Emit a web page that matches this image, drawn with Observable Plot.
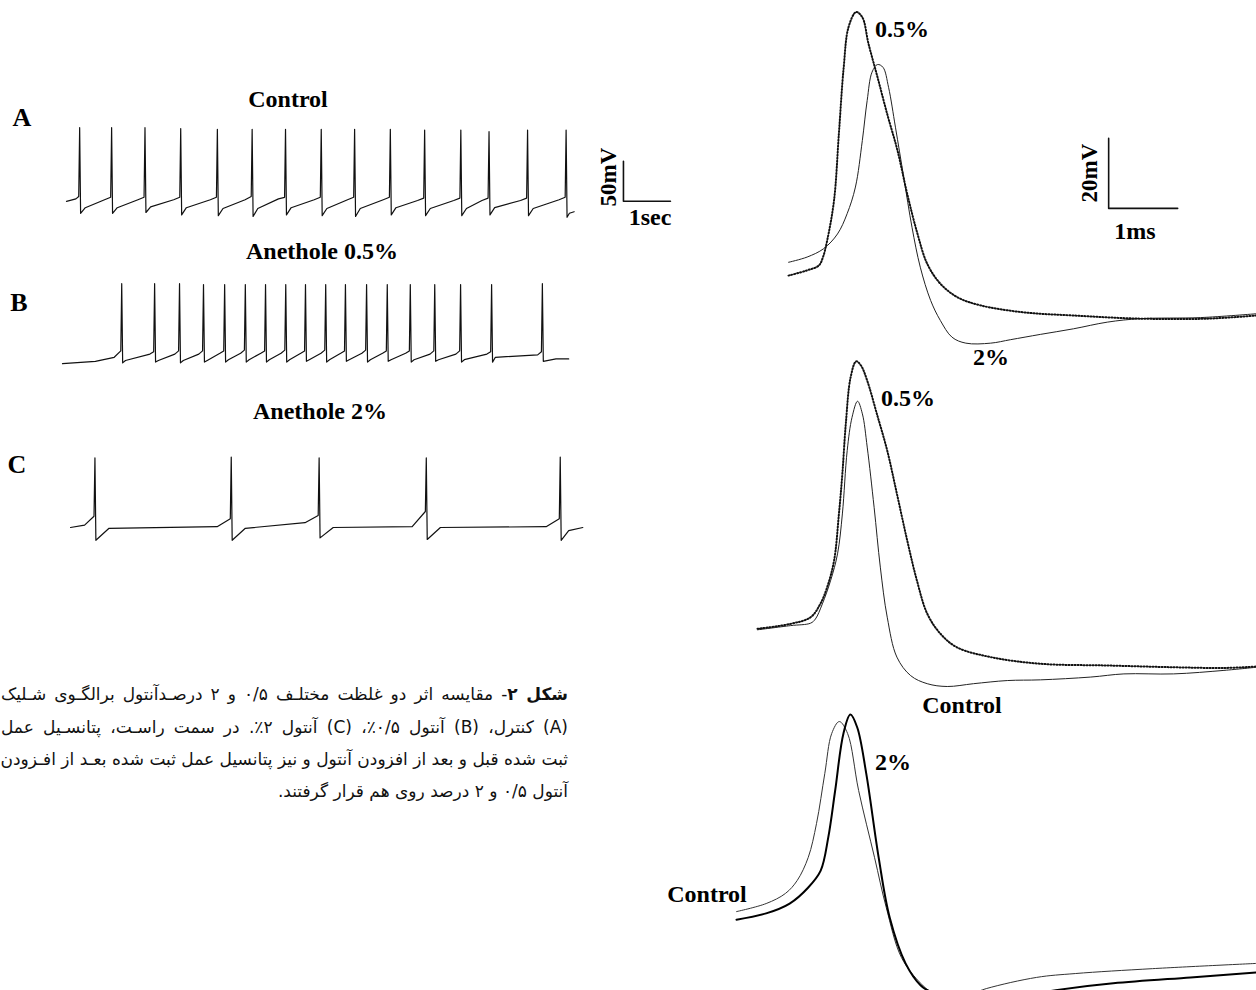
<!DOCTYPE html>
<html><head><meta charset="utf-8">
<script src="https://cdn.jsdelivr.net/npm/d3@7"></script>
<script src="https://cdn.jsdelivr.net/npm/@observablehq/plot@0.6"></script>
<style>
html,body{margin:0;padding:0;background:#fff;}
#fig{position:relative;width:1256px;height:990px;overflow:hidden;background:#fff;}
.pnl{position:absolute;}
.pnl svg{display:block;max-width:none;overflow:hidden;}
.lbl{position:absolute;font-family:"Liberation Serif","Times New Roman",serif;font-weight:bold;font-size:24px;color:#000;white-space:nowrap;transform:translate(-50%,-50%);line-height:1;}
.big{font-size:26px;}
.rot{transform:translate(-50%,-50%) rotate(-90deg);font-size:23px;}
.cap{position:absolute;left:1px;width:567px;direction:rtl;white-space:nowrap;font-family:"DejaVu Sans",sans-serif;font-size:17px;line-height:1;transform:translateY(-50%);color:#111;text-align:right;}
.cap.j{text-align:justify;text-align-last:justify;}
</style></head><body><div id="fig"></div>
<script>
// ---------------- DATA (time in s / ms, membrane potential in mV) ----------------
// A: Control spike train (s, mV)
const aStart = [[0, -61], [0.2, -58]];
const aSpikeTimes = [0.28, 0.96, 1.67, 2.43, 3.21, 3.95, 4.66, 5.42, 6.13, 6.89, 7.62, 8.39, 8.99, 9.81, 10.63];
const aPeaks = [31, 31, 31, 30, 29, 29, 29, 29, 29, 29, 28, 28, 26, 28, 28];
const aPre = [-55, -56, -56, -56, -56, -55, -56, -56, -56, -56, -57, -57, -57, -57, -56];
const aTroughs = [-76, -76, -75, -78, -79, -80, -78, -79, -80, -78, -79, -79, -78, -79, -81];
const aRecover = [-69, -69, -68, -69, -70, -70, -69, -70, -70, -69, -70, -70, -69, -70];
const aLate = [-59, -59, -59, -59, -59, -58, -59, -59, -59, -60, -60, -60, -60, -59];
const aEnd = [[10.7, -76], [10.8, -74]];
// B: Anethole 0.5% spike train
const bStart = [[0, -64], [0.7, -61], [1.1, -56]];
const bSpikeTimes = [1.26, 1.96, 2.49, 3.00, 3.45, 3.89, 4.32, 4.75, 5.17, 5.60, 6.02, 6.47, 6.91, 7.40, 7.92, 8.47, 9.13, 10.21];
const bPeaks = [36, 36, 36, 35, 35, 35, 35, 35, 35, 35, 35, 35, 35, 35, 35, 35, 35, 36];
const bPre = [-48, -49, -48, -48, -48, -47, -48, -47, -48, -47, -48, -47, -48, -48, -48, -48, -49, -49];
const bTroughs = [-63, -62, -63, -62, -62, -62, -62, -62, -61, -62, -61, -62, -61, -62, -61, -62, -62, -61];
const bRecover = [-60, -60, -60, -60, -59, -59, -59, -59, -59, -59, -59, -59, -59, -59, -59, -59, -56];
const bLate = [-52, -52, -52, -51, -51, -51, -51, -51, -51, -51, -51, -51, -51, -52, -52, -52, -53];
const bEnd = [[10.5, -58], [10.77, -58]];
// C: Anethole 2% spike train
const cStart = [[0, -60], [0.3, -57]];
const cSpikeTimes = [0.52, 3.42, 5.29, 7.57, 10.42];
const cPeaks = [27, 28, 27, 27, 28];
const cPre = [-46, -49, -45, -40, -49];
const cTroughs = [-76, -76, -73, -75, -76];
const cRecover = [-61, -61, -60, -60];
const cLate = [-59, -54, -59, -59];
const cEnd = [[10.6, -64], [10.9, -60]];
// Scale bar A: 50 mV / 1 s
const scaleA = [[11.85, -11], [11.85, -61], [12.85, -61]];

// Right, top: 0.5% (dotted) vs 2% (thin)  (ms, mV)
const top05 = [[0,-48.6],[0.27,-47.1],[0.44,-45.7],[0.50,-43.3],[0.56,-38.6],[0.66,-27.1],[0.73,-8.1],[0.80,10.9],[0.87,22.4],[0.98,26.7],[1.07,25.2],[1.16,17.6],[1.29,8.1],[1.43,-2.4],[1.58,-12.9],[1.72,-25.2],[1.87,-36.7],[2.01,-45.2],[2.20,-50.9],[2.45,-54.8],[2.78,-57.1],[3.41,-59.1],[4.13,-60],[5.10,-60.9],[6.07,-60.9],[6.78,-60]];
const top2 = [[0,-44.8],[0.27,-43.3],[0.51,-40.9],[0.71,-36.7],[0.85,-30.9],[0.97,-23.3],[1.07,-10],[1.14,1.4],[1.21,9.5],[1.29,11.7],[1.37,10.9],[1.45,5.2],[1.55,-6.2],[1.67,-20.5],[1.79,-34.8],[1.91,-46.2],[2.06,-55.7],[2.20,-61.4],[2.37,-66.2],[2.57,-67.9],[2.93,-67.9],[3.22,-66.9],[3.65,-65.4],[4.13,-63.8],[4.62,-61.9],[5.10,-60.9],[5.97,-60.6],[6.78,-59.5]];
const scaleRight = [[4.64, -9.4], [4.64, -29.4], [5.64, -29.4]];
// Right, middle: 0.5% (dotted) vs Control (thin)
const mid05 = [[0,-49.5],[0.48,-48.1],[0.77,-46.2],[0.91,-42.4],[1.01,-37.6],[1.11,-30],[1.18,-16.7],[1.23,-5.2],[1.28,9.1],[1.35,22.4],[1.43,26.9],[1.50,25.7],[1.59,21.4],[1.73,11.9],[1.88,1.4],[2.02,-10.9],[2.17,-24.3],[2.31,-35.7],[2.46,-45.2],[2.65,-50.9],[2.89,-54.8],[3.38,-57.6],[4.10,-59.5],[5.07,-60],[6.03,-60.5],[6.76,-60.7],[7.23,-60.3]];
const midCtrl = [[0,-49.8],[0.48,-48.6],[0.77,-47.9],[0.84,-46.7],[0.94,-42.4],[1.06,-35.7],[1.16,-28.1],[1.23,-16.7],[1.30,1.4],[1.37,10.9],[1.45,15.5],[1.52,11.9],[1.59,2.4],[1.69,-14.8],[1.78,-31.9],[1.88,-46.2],[2.02,-57.6],[2.22,-62.9],[2.46,-65.2],[2.75,-66],[3.13,-65.2],[3.62,-64.3],[4.10,-64.1],[4.83,-63.3],[5.31,-62.4],[6.03,-62.4],[6.76,-61.4],[7.23,-60.5]];
// Right, bottom: Control (thin) vs 2% (thick)
const botCtrl = [[0,-44.6],[0.43,-42.3],[0.71,-39.4],[0.88,-35.7],[1.04,-29.1],[1.16,-19.4],[1.28,-5.1],[1.38,6.3],[1.49,9.7],[1.61,6.3],[1.77,-10],[2.00,-29.1],[2.17,-43.4],[2.39,-57.7],[2.67,-65.1],[2.84,-67.7],[3.25,-69.1],[3.62,-66.6],[4.35,-63.4],[4.91,-62.3],[6.03,-60.9],[7.54,-59.4]];
const bot2 = [[0,-46.9],[0.43,-45.1],[0.77,-42.3],[1.04,-37.7],[1.22,-32.9],[1.33,-23.4],[1.43,-10],[1.55,6.3],[1.65,11.7],[1.75,8],[1.88,-5.1],[2.06,-29.1],[2.22,-46.3],[2.45,-59.4],[2.67,-65.7],[2.84,-67.7],[3.68,-70],[4.68,-66.9],[5.46,-65.1],[6.58,-63.4],[7.54,-62]];

// ---------------- BUILD ----------------
const fig = document.getElementById("fig");

function train(start, times, pre, peaks, troughs, recover, late, end, recT, lateT) {
  const pts = start.map(d => ({t: d[0], v: d[1]}));
  const n = times.length;
  for (let i = 0; i < n; i++) {
    const t = times[i];
    pts.push({t: t - 0.02, v: pre[i]});
    pts.push({t: t, v: peaks[i]});
    pts.push({t: t + 0.02, v: troughs[i]});
    if (i < n - 1) {
      pts.push({t: t + recT, v: recover[i]});
      pts.push({t: times[i + 1] - lateT, v: late[i]});
    }
  }
  end.forEach(d => pts.push({t: d[0], v: d[1]}));
  return pts;
}

// box: pixel placement of each panel, origin (x0,y0) = (t=0, v=-60), kx px/unit, ky px/mV
function panel(box, marks) {
  const {left, top, width, height, x0, y0, kx, ky} = box;
  const xd = [-(x0 - left) / kx, (left + width - x0) / kx];
  const yd = [-60 - (top + height - y0) / ky, -60 + (y0 - top) / ky];
  const svg = Plot.plot({
    width, height, margin: 0,
    x: {domain: xd, axis: null},
    y: {domain: yd, axis: null},
    style: {background: "transparent", maxWidth: "none", overflow: "hidden"},
    marks
  });
  const div = document.createElement("div");
  div.className = "pnl";
  div.style.left = left + "px"; div.style.top = top + "px";
  div.style.width = width + "px"; div.style.height = height + "px";
  div.appendChild(svg);
  fig.appendChild(div);
}

const P = d => d[0], V = d => d[1];
const tr = {x: "t", y: "v", stroke: "#111", strokeWidth: 1.2};
const bar = {x: P, y: V, stroke: "#111", strokeWidth: 1.6};

panel({left: 55, top: 115, width: 630, height: 110, x0: 66, y0: 200, kx: 47, ky: 0.8}, [
  Plot.line(train(aStart, aSpikeTimes, aPre, aPeaks, aTroughs, aRecover, aLate, aEnd, 0.12, 0.15), tr),
  Plot.line(scaleA, bar)
]);
panel({left: 50, top: 275, width: 540, height: 100, x0: 62, y0: 360, kx: 47, ky: 0.8}, [
  Plot.line(train(bStart, bSpikeTimes, bPre, bPeaks, bTroughs, bRecover, bLate, bEnd, 0.08, 0.1), tr)
]);
panel({left: 60, top: 445, width: 540, height: 105, x0: 70, y0: 527, kx: 47, ky: 0.8}, [
  Plot.line(train(cStart, cSpikeTimes, cPre, cPeaks, cTroughs, cRecover, cLate, cEnd, 0.3, 0.3), tr)
]);

const dotted = {x: P, y: V, stroke: "#111", strokeWidth: 2, strokeDasharray: "1,2", curve: "catmull-rom"};
const thin = {x: P, y: V, stroke: "#222", strokeWidth: 1, curve: "catmull-rom"};
const thick = {x: P, y: V, stroke: "#000", strokeWidth: 2, curve: "catmull-rom"};

panel({left: 740, top: 0, width: 516, height: 350, x0: 788, y0: 315, kx: 69, ky: 3.5}, [
  Plot.line(top2, thin),
  Plot.line(top05, dotted),
  Plot.line(scaleRight, bar)
]);
panel({left: 740, top: 350, width: 516, height: 345, x0: 757, y0: 665, kx: 69, ky: 3.5}, [
  Plot.line(midCtrl, thin),
  Plot.line(mid05, dotted)
]);
panel({left: 700, top: 700, width: 556, height: 290, x0: 736, y0: 965, kx: 69, ky: 3.5}, [
  Plot.line(botCtrl, {...thin, stroke: "#333"}),
  Plot.line(bot2, thick)
]);

// ---------------- TEXT ----------------
function label(txt, x, y, cls) {
  const d = document.createElement("div");
  d.className = "lbl" + (cls ? " " + cls : "");
  d.style.left = x + "px"; d.style.top = y + "px";
  d.textContent = txt;
  fig.appendChild(d);
}
label("Control", 288, 99);
label("A", 22, 118, "big");
label("Anethole 0.5%", 322, 251);
label("B", 19, 303, "big");
label("Anethole 2%", 320, 411);
label("C", 17, 465, "big");
label("50mV", 608, 177, "rot");
label("1sec", 650, 217);
label("0.5%", 902, 29);
label("20mV", 1089, 173, "rot");
label("1ms", 1135, 231);
label("2%", 991, 357);
label("0.5%", 908, 398);
label("Control", 962, 705);
label("2%", 893, 762);
label("Control", 707, 894);

const capLines = [
  "<b>شکل ۲</b>- مقایسه اثر دو غلظت مختلـف ۰/۵ و ۲ درصـدآنتول برالگـوی شـلیک",
  "(A) کنترل، (B) آنتول ۰/۵٪، (C) آنتول ۲٪. در سمت راسـت، پتانسـیل عمل",
  "ثبت شده قبل و بعد از افزودن آنتول و نیز پتانسیل عمل ثبت شده بعـد از افـزودن",
  "آنتول ۰/۵ و ۲ درصد روی هم قرار گرفتند."
];
const capY = [694, 727, 759, 791];
capLines.forEach((s, i) => {
  const d = document.createElement("div");
  d.className = "cap" + (i < 3 ? " j" : "");
  d.style.top = capY[i] + "px";
  d.innerHTML = s;
  fig.appendChild(d);
});
</script></body></html>
